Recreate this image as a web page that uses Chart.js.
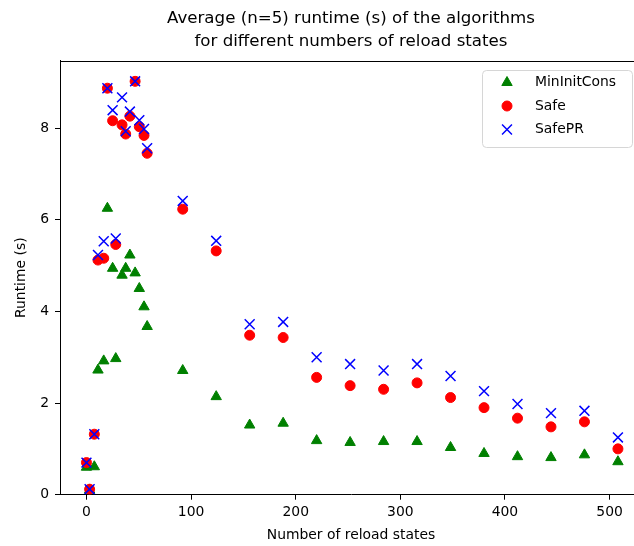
<!DOCTYPE html>
<html>
<head>
<meta charset="utf-8">
<script src="https://cdn.jsdelivr.net/npm/chart.js@4.4.1/dist/chart.umd.min.js"></script>
<style>
html, body { margin: 0; padding: 0; overflow: hidden; background: #fff; }
#wrap { position: absolute; left: 0; top: 0; width: 660px; height: 546px; }
</style>
</head>
<body>
<div id="wrap"><canvas id="plot" width="660" height="546"></canvas></div>
<script>
// number of reload states (shared by all three algorithms)
var reloadStates = [0, 3, 7.5, 11, 16.5, 20, 25, 28, 34, 37.5, 41.5, 46.5, 50.5, 55, 58,
  92, 124, 156, 188, 220, 252, 284, 316, 348, 380, 412, 444, 476, 508];
var minInitCons = [0.60, 0.10, 0.61, 2.72, 2.92, 6.25, 4.94, 2.97, 4.79, 4.94, 5.23, 4.84, 4.50, 4.10, 3.67,
  2.71, 2.14, 1.52, 1.56, 1.18, 1.14, 1.16, 1.16, 1.03, 0.90, 0.83, 0.81, 0.87, 0.72];
var safe = [0.70, 0.12, 1.32, 5.12, 5.16, 8.87, 8.16, 5.46, 8.07, 7.87, 8.26, 9.02, 8.03, 7.84, 7.45,
  6.23, 5.32, 3.48, 3.43, 2.56, 2.38, 2.30, 2.44, 2.12, 1.90, 1.67, 1.48, 1.59, 1.00];
var safePR = [0.70, 0.12, 1.32, 5.23, 5.53, 8.87, 8.39, 5.59, 8.67, 7.93, 8.36, 9.02, 8.17, 7.98, 7.56,
  6.41, 5.54, 3.72, 3.77, 3.00, 2.85, 2.71, 2.85, 2.59, 2.26, 1.98, 1.78, 1.83, 1.25];
var xTicks = [0, 100, 200, 300, 400, 500];
var yTicks = [0, 2, 4, 6, 8];

function points(vals) {
  return vals.map(function (v, i) { return { x: reloadStates[i], y: v }; });
}

Chart.defaults.font.family = 'DejaVu Sans';
Chart.defaults.color = '#000';

// top/right spines and the boxed legend in the upper right
var frame = {
  id: 'frame',
  afterDraw: function (chart) {
    var c = chart.ctx, a = chart.chartArea;
    c.save();
    c.strokeStyle = '#000';
    c.lineWidth = 1;
    c.beginPath();
    c.moveTo(Math.round(a.left), Math.round(a.top) + 0.5);
    c.lineTo(Math.round(a.right), Math.round(a.top) + 0.5);
    c.lineTo(Math.round(a.right) + 0.5, Math.round(a.bottom));
    c.stroke();

    c.fillStyle = 'rgba(255,255,255,0.8)';
    c.strokeStyle = '#d6d6d6';
    c.beginPath();
    c.roundRect(482.5, 70.5, 150, 77, 4);
    c.fill();
    c.stroke();

    c.font = '13.9px "DejaVu Sans"';
    c.textBaseline = 'middle';
    chart.data.datasets.forEach(function (ds, i) {
      var y = 82.5 + i * 23.5;
      c.fillStyle = ds.backgroundColor;
      c.strokeStyle = ds.borderColor;
      c.lineWidth = ds.borderWidth;
      Chart.helpers.drawPoint(c, { pointStyle: ds.pointStyle, radius: ds.pointRadius, rotation: 0, borderWidth: ds.borderWidth }, 507, y);
      c.fillStyle = '#000';
      c.fillText(ds.label, 535, y);
    });
    c.restore();
  }
};

new Chart(document.getElementById('plot').getContext('2d'), {
  type: 'scatter',
  data: {
    datasets: [{
      label: 'MinInitCons',
      data: points(minInitCons),
      pointStyle: 'triangle',
      pointRadius: 6,
      backgroundColor: '#008000',
      borderColor: '#008000',
      borderWidth: 1,
      order: 3
    }, {
      label: 'Safe',
      data: points(safe),
      pointStyle: 'circle',
      pointRadius: 5,
      backgroundColor: '#ff0000',
      borderColor: '#ff0000',
      borderWidth: 1,
      order: 2
    }, {
      label: 'SafePR',
      data: points(safePR),
      pointStyle: 'crossRot',
      pointRadius: 7,
      backgroundColor: '#0000ff',
      borderColor: '#0000ff',
      borderWidth: 1.5,
      order: 1
    }]
  },
  options: {
    responsive: false,
    animation: false,
    layout: { padding: { top: 0, right: 18, bottom: 0, left: 0 } },
    plugins: {
      legend: { display: false },
      tooltip: { enabled: false },
      title: {
        display: true,
        fullSize: false,
        text: ['Average (n=5) runtime (s) of the algorithms', 'for different numbers of reload states'],
        color: '#000',
        font: { size: 16.67, weight: 'normal', lineHeight: 1.38 },
        padding: { top: 7, bottom: 7.7 }
      }
    },
    scales: {
      x: {
        type: 'linear',
        min: -25.3,
        max: 531,
        afterBuildTicks: function (s) { s.ticks = xTicks.map(function (v) { return { value: v }; }); },
        afterFit: function (s) { s.height = 51.3; },
        ticks: { padding: 4, font: { size: 13.9 }, color: '#000', maxRotation: 0, autoSkip: false },
        grid: { drawOnChartArea: false, drawTicks: true, tickLength: 5, color: '#000' },
        border: { display: true, color: '#000' },
        title: { display: true, text: 'Number of reload states', font: { size: 13.9 }, padding: { top: 0, bottom: 2 } }
      },
      y: {
        type: 'linear',
        min: 0,
        max: 9.47,
        afterBuildTicks: function (s) { s.ticks = yTicks.map(function (v) { return { value: v }; }); },
        afterFit: function (s) { s.width = 60; },
        ticks: { padding: 6, font: { size: 13.9 }, color: '#000' },
        grid: { drawOnChartArea: false, drawTicks: true, tickLength: 5, color: '#000' },
        border: { display: true, color: '#000' },
        title: { display: true, text: 'Runtime (s)', font: { size: 13.9 }, padding: { top: 13, bottom: 0 } }
      }
    }
  },
  plugins: [frame]
});
</script>
</body>
</html>
